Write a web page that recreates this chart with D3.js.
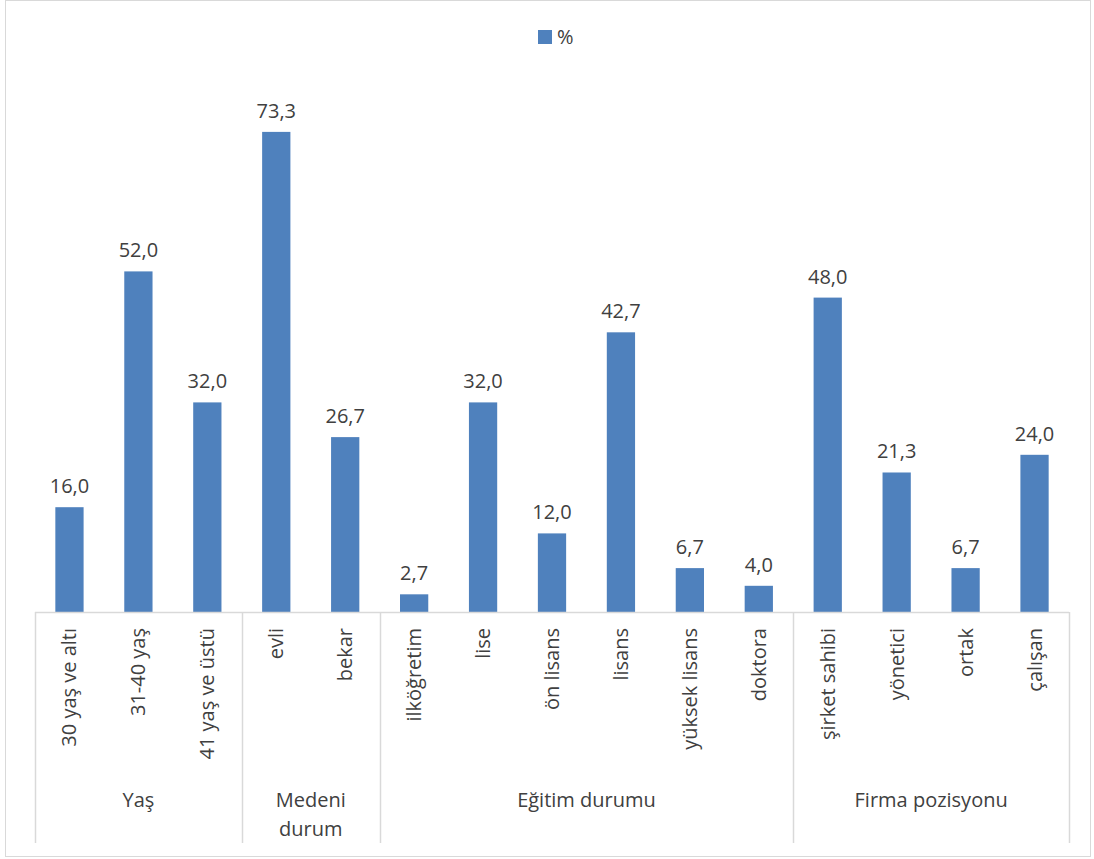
<!DOCTYPE html>
<html>
<head>
<meta charset="utf-8">
<script src="https://cdn.jsdelivr.net/npm/d3@7"></script>
<style>
  body { margin: 0; background: #fff; }
  text { font-family: "Open Sans", "Noto Sans", sans-serif; fill: #404040; }
</style>
</head>
<body>
<script>
// chart values
var categories = ["30 yaş ve altı", "31-40 yaş", "41 yaş ve üstü", "evli", "bekar",
    "ilköğretim", "lise", "ön lisans", "lisans", "yüksek lisans", "doktora",
    "şirket sahibi", "yönetici", "ortak", "çalışan"];
var values = [16.0, 52.0, 32.0, 73.3, 26.7, 2.7, 32.0, 12.0, 42.7, 6.7, 4.0, 48.0, 21.3, 6.7, 24.0];
var groups = [["Yaş"], ["Medeni", "durum"], ["Eğitim durumu"], ["Firma pozisyonu"]];
var groupSizes = [3, 2, 6, 4];
var seriesName = "%";

var width = 1094, height = 859;
var plotLeft = 35, plotRight = 1069, base = 612, plotTop = 88;
var color = "#4f81bd", grid = "#d9d9d9";
var fs = "20px";

var svg = d3.select("body").append("svg")
    .attr("width", width)
    .attr("height", height);

// outer border
svg.append("rect")
    .attr("x", 5.5).attr("y", 0.5)
    .attr("width", 1085).attr("height", 856)
    .attr("fill", "none")
    .attr("stroke", grid);

var x = d3.scaleBand().domain(categories).range([plotLeft, plotRight]).paddingInner(0.59).paddingOuter(0.295);
var y = d3.scaleLinear().domain([0, 80]).range([base, plotTop]);
var step = x.step();

// bars
svg.selectAll("rect.bar").data(values).enter().append("rect")
    .attr("class", "bar")
    .attr("x", function(d, i){ return x(categories[i]); })
    .attr("y", function(d){ return y(d); })
    .attr("width", x.bandwidth())
    .attr("height", function(d){ return base - y(d); })
    .attr("fill", color);

// value labels
svg.selectAll("text.val").data(values).enter().append("text")
    .attr("class", "val")
    .attr("x", function(d, i){ return x(categories[i]) + x.bandwidth() / 2; })
    .attr("y", function(d){ return y(d) - 14; })
    .attr("text-anchor", "middle")
    .style("font-size", fs)
    .text(function(d){ return d.toFixed(1).replace(".", ","); });

// axis line
svg.append("line")
    .attr("x1", plotLeft).attr("x2", plotRight)
    .attr("y1", base + 0.5).attr("y2", base + 0.5)
    .attr("stroke", grid).attr("stroke-width", 1.5);

// category labels (rotated)
svg.selectAll("text.cat").data(categories).enter().append("text")
    .attr("class", "cat")
    .attr("transform", function(d){
        var cx = x(d) + x.bandwidth() / 2 + 7;
        return "translate(" + cx + "," + (base + 16) + ") rotate(-90)";
    })
    .attr("text-anchor", "end")
    .style("font-size", fs)
    .text(function(d){ return d; });

// group separators and labels
var start = 0;
var bounds = [0];
groupSizes.forEach(function(n){ start += n; bounds.push(start); });

svg.selectAll("line.sep").data(bounds).enter().append("line")
    .attr("class", "sep")
    .attr("x1", function(d){ return Math.round(plotLeft + d * step) + 0.5; })
    .attr("x2", function(d){ return Math.round(plotLeft + d * step) + 0.5; })
    .attr("y1", base).attr("y2", 843)
    .attr("stroke", grid).attr("stroke-width", 1.5);

groups.forEach(function(g, i){
    var cx = plotLeft + (bounds[i] + bounds[i + 1]) / 2 * step;
    var t = svg.append("text")
        .attr("x", cx)
        .attr("y", 807)
        .attr("text-anchor", "middle")
        .style("font-size", fs);
    g.forEach(function(line, j){
        t.append("tspan").attr("x", cx).attr("dy", j == 0 ? 0 : 29).text(line);
    });
});

// legend
svg.append("rect")
    .attr("x", 538).attr("y", 30)
    .attr("width", 14).attr("height", 14)
    .attr("fill", color);
svg.append("text")
    .attr("x", 557).attr("y", 44)
    .style("font-size", fs)
    .text(seriesName);
</script>
</body>
</html>
